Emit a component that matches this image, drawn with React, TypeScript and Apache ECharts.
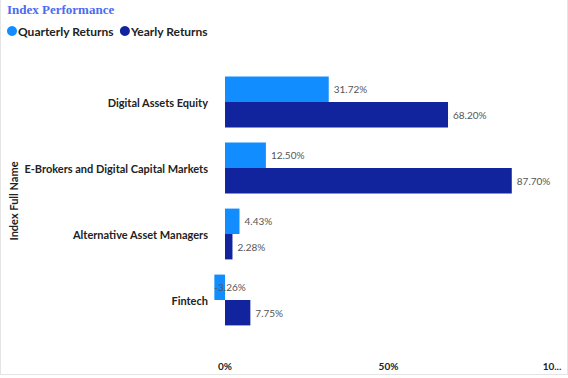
import React, { useEffect, useRef } from "react";
import * as echarts from "echarts";

const categories = [
  "Digital Assets Equity",
  "E-Brokers and Digital Capital Markets",
  "Alternative Asset Managers",
  "Fintech",
];
const quarterlyReturns = [31.72, 12.5, 4.43, -3.26];
const yearlyReturns = [68.2, 87.7, 2.28, 7.75];
const xTicks = [0, 50, 100];
const xTickLabels = ["0%", "50%", "10..."];
const xMin = -3.37;
const xMax = 100;

export default function App() {
  const ref = useRef<HTMLDivElement>(null);
  useEffect(() => {
    document.body.style.margin = "0";
    const chart = echarts.init(ref.current!, null, { renderer: "svg" });
    const labelStyle = {
      show: true,
      position: "right" as const,
      distance: 5,
      color: "#555",
      fontSize: 10,
      fontFamily: "Lato",
      formatter: (p: any) => p.value.toFixed(2) + "%",
    };
    chart.setOption({
      animation: false,
      title: {
        text: "Index Performance",
        left: 6,
        top: 3,
        padding: 0,
        textStyle: {
          fontFamily: "Liberation Serif",
          fontWeight: "bold",
          fontSize: 13,
          color: "#4a6cf0",
        },
      },
      legend: {
        left: 6,
        top: 25,
        padding: 0,
        icon: "circle",
        itemWidth: 10,
        itemHeight: 10,
        itemGap: 6,
        textStyle: {
          fontFamily: "Lato",
          fontWeight: "bold",
          fontSize: 12,
          color: "#222",
          padding: [0, 0, 0, -4],
        },
        data: ["Quarterly Returns", "Yearly Returns"],
      },
      grid: {
        left: 213,
        right: 15,
        top: 69,
        bottom: 41,
        containLabel: false,
        outerBoundsMode: "none",
      },
      xAxis: {
        type: "value",
        min: xMin,
        max: xMax,
        splitLine: { show: false },
        axisLine: { show: false },
        axisTick: { show: false },
        axisLabel: {
          margin: 28,
          customValues: xTicks,
          fontFamily: "Lato",
          fontWeight: "bold",
          fontSize: 10,
          color: "#222",
          formatter: (v: number) => xTickLabels[xTicks.indexOf(v)] ?? v + "%",
        },
      },
      yAxis: {
        type: "category",
        data: categories,
        inverse: true,
        name: "Index Full Name",
        nameLocation: "middle",
        nameGap: 195,
        nameMoveOverlap: false,
        nameTextStyle: {
          fontFamily: "Lato",
          fontWeight: "bold",
          fontSize: 11,
          color: "#222",
        },
        axisLine: { show: false },
        axisTick: { show: false },
        axisLabel: {
          margin: 6,
          fontFamily: "Lato",
          fontWeight: "bold",
          fontSize: 11,
          color: "#222",
        },
      },
      series: [
        {
          name: "Quarterly Returns",
          type: "bar",
          data: quarterlyReturns.map((v) =>
            v < 0
              ? { value: v, label: { position: "insideLeft", distance: 0 } }
              : v
          ),
          itemStyle: { color: "#118DFF" },
          barGap: "0%",
          barCategoryGap: "23%",
          label: labelStyle,
        },
        {
          name: "Yearly Returns",
          type: "bar",
          data: yearlyReturns,
          itemStyle: { color: "#12239E" },
          barGap: "0%",
          barCategoryGap: "23%",
          label: labelStyle,
        },
      ],
    });
    return () => chart.dispose();
  }, []);
  return (
    <div
      style={{
        position: "absolute",
        left: 0,
        top: 0,
        width: 566,
        height: 374,
        borderRight: "1px solid #e4e4e4",
        borderBottom: "1px solid #e4e4e4",
        borderLeft: "1px solid #e4e4e4",
      }}
    >
      <div ref={ref} style={{ width: 566, height: 374 }} />
    </div>
  );
}
